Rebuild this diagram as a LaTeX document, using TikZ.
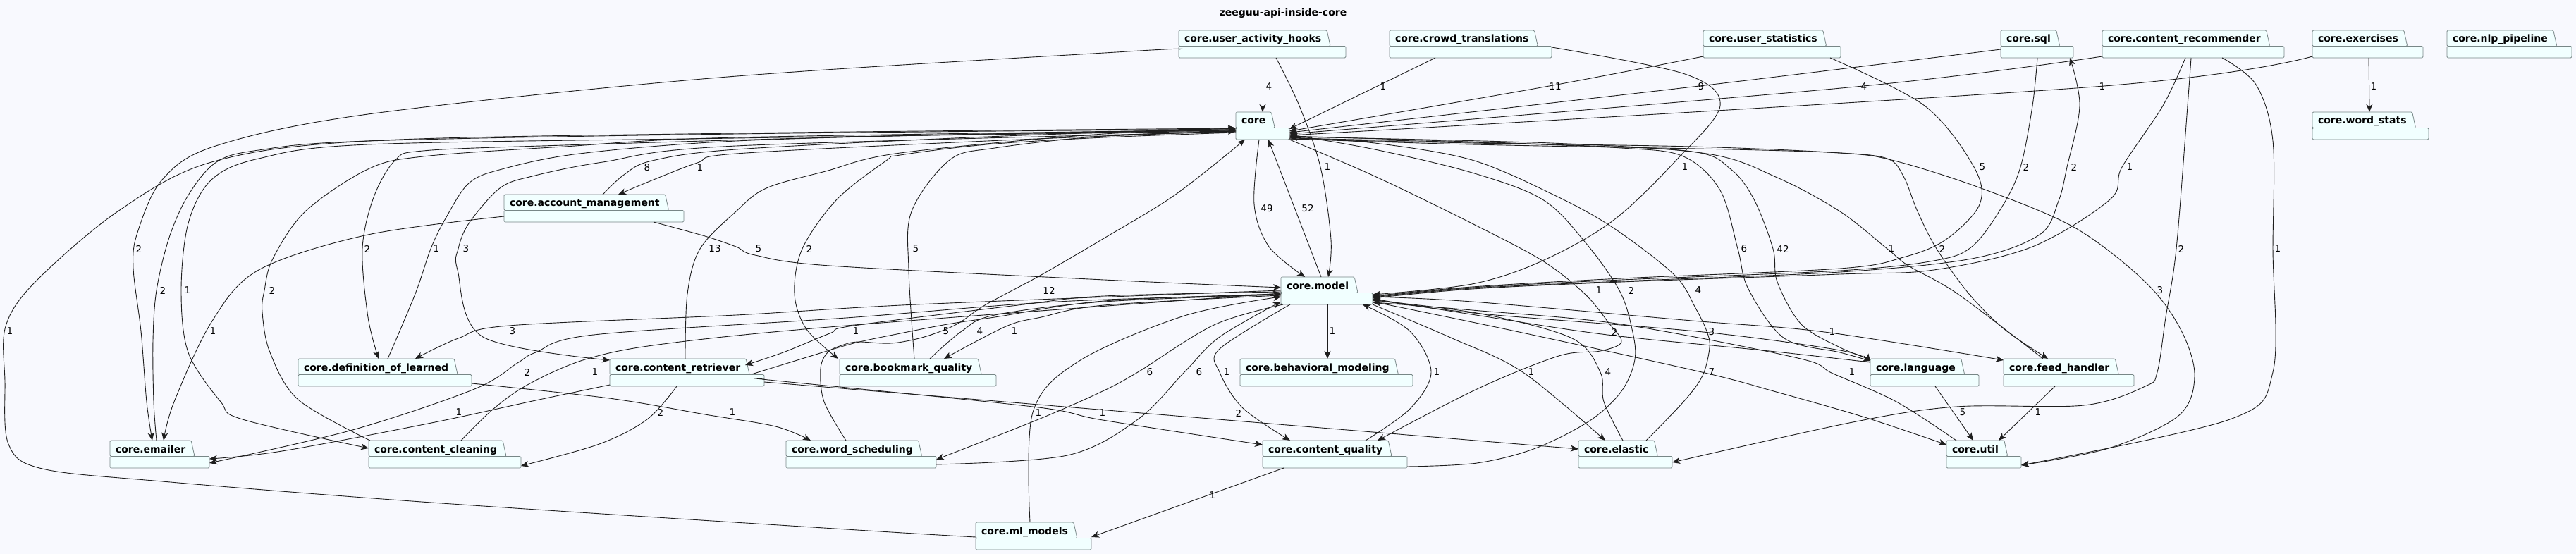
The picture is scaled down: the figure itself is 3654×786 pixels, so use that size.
\documentclass[tikz,border=0pt]{standalone}
\usepackage{fontspec}
\setmainfont{DejaVu Sans}
\usepackage{xcolor}
\usepackage{tikz}
\usetikzlibrary{arrows.meta,shapes.geometric}
\definecolor{pagebg}{RGB}{248,249,254}
\definecolor{pkgfill}{RGB}{241,255,255}
\definecolor{pkgborder}{RGB}{120,135,135}
\definecolor{edgeline}{RGB}{30,30,30}

% package: name, left, top, right, label (pixel units of the layout)
\newcommand{\pkgnode}[5]{%
  \node[pkgarea, minimum width={(#4-#2)*1pt}] (#1) at (#2,-#3) {};
  \draw[pkgbody] ([yshift=-22.5pt]#1.north west) rectangle (#1.south east);
  \node[pkgtab] (#1-tab) at (#1.north west) {#5};
}

\begin{document}
\begin{tikzpicture}[x=1pt, y=1pt, >={Stealth[length=11pt,width=9pt,inset=3pt]}]
  \tikzstyle{pkgarea}=[rectangle,anchor=north west,minimum height=39pt,inner sep=0pt,outer sep=0pt]
  \tikzstyle{pkgbody}=[draw=pkgborder,fill=pkgfill,line width=0.8pt,rounded corners=1.5pt]
  \tikzstyle{pkgtab}=[trapezium,trapezium left angle=90,trapezium right angle=70,trapezium stretches=true,anchor=top left corner,draw=pkgborder,fill=pkgfill,line width=0.8pt,rounded corners=1.5pt,minimum height=22.5pt,inner xsep=8pt,inner ysep=0pt,outer sep=0pt,text height=12.5pt,text depth=1pt,font=\bfseries\fontsize{14}{16}\selectfont]
  \tikzstyle{dep}=[->,draw=edgeline,line width=0.9pt,smooth,tension=0.55]
  \tikzstyle{lbl}=[inner sep=0pt,font=\fontsize{13.5}{15}\selectfont]

  \path[fill=pagebg,use as bounding box] (0,0) rectangle (3654,-786);
  \node[font=\bfseries\fontsize{14}{16}\selectfont] (title) at (1820,-19) {zeeguu-api-inside-core};

  % packages
  \pkgnode{hooks}{1672}{43}{1909}{core.user\_activity\_hooks}
  \pkgnode{crowd}{1971}{43}{2201}{core.crowd\_translations}
  \pkgnode{ustats}{2416}{43}{2611}{core.user\_statistics}
  \pkgnode{sql}{2838}{43}{2941}{core.sql}
  \pkgnode{recom}{2982}{43}{3240}{core.content\_recommender}
  \pkgnode{exer}{3280}{43}{3437}{core.exercises}
  \pkgnode{nlp}{3471}{43}{3648}{core.nlp\_pipeline}
  \pkgnode{core}{1753}{159}{1829}{core}
  \pkgnode{wstats}{3280}{159}{3445}{core.word\_stats}
  \pkgnode{account}{715}{276}{970}{core.account\_management}
  \pkgnode{model}{1817}{393}{1947}{core.model}
  \pkgnode{defl}{423}{509}{669}{core.definition\_of\_learned}
  \pkgnode{retr}{865}{509}{1084}{core.content\_retriever}
  \pkgnode{bookm}{1191}{509}{1413}{core.bookmark\_quality}
  \pkgnode{behav}{1759}{509}{2004}{core.behavioral\_modeling}
  \pkgnode{lang}{2653}{509}{2807}{core.language}
  \pkgnode{feed}{2842}{509}{3027}{core.feed\_handler}
  \pkgnode{email}{156}{625}{297}{core.emailer}
  \pkgnode{clean}{523}{625}{739}{core.content\_cleaning}
  \pkgnode{sched}{1115}{625}{1328}{core.word\_scheduling}
  \pkgnode{qual}{1791}{625}{1996}{core.content\_quality}
  \pkgnode{elastic}{2239}{625}{2372}{core.elastic}
  \pkgnode{util}{2761}{625}{2867}{core.util}
  \pkgnode{mlm}{1384}{741}{1548}{core.ml\_models}

  % top row into core
  \draw[dep] ([xshift=119pt]hooks.south west) -- ([xshift=38pt]core.north west);
  \node[lbl] (e1) at (1800,-123) {4};
  \draw[dep] plot coordinates {([xshift=65pt]crowd.south west) (1952,-123) ([yshift=-24pt]core.north east)};
  \node[lbl] (e2) at (1962,-123) {1};
  \draw[dep] plot coordinates {([yshift=-37pt]ustats.north west) (2192,-123) ([yshift=-27pt]core.north east)};
  \node[lbl] (e3) at (2206,-123) {11};
  \draw[dep] plot coordinates {([yshift=-27pt]sql.north west) (2402,-123) ([yshift=-29pt]core.north east)};
  \node[lbl] (e4) at (2413,-123) {9};
  \draw[dep] plot coordinates {([yshift=-37pt]recom.north west) (2633,-123) ([yshift=-31pt]core.north east)};
  \node[lbl] (e5) at (2644,-123) {4};
  \draw[dep] plot coordinates {([yshift=-37pt]exer.north west) (2972,-123) ([yshift=-33pt]core.north east)};
  \node[lbl] (e6) at (2982,-123) {1};
  \draw[dep] ([xshift=80pt]exer.south west) -- ([xshift=81pt]wstats.north west);
  \node[lbl] (e7) at (3367,-123) {1};

  % account, top row into model
  \draw[dep] plot coordinates {([xshift=140pt]account.north west) (885,-248) (925,-228) (1044,-212) (1400,-194) ([yshift=-23pt]core.north west)};
  \node[lbl] (e8) at (918,-238) {8};
  \draw[dep] plot coordinates {([yshift=-27pt]core.north west) (1400,-200) (1044,-218) (989,-231) (922,-257) ([xshift=162pt]account.north west)};
  \node[lbl] (e9) at (993,-238) {1};
  \draw[dep] plot coordinates {([xshift=138pt]hooks.south west) (1843,-150) (1873,-237) (1888,-340) ([xshift=67pt]model.north west)};
  \node[lbl] (e10) at (1883,-237) {1};
  \draw[dep] plot coordinates {([yshift=-24pt]crowd.north east) (2390,-105) (2440,-150) (2378,-227) (2288,-313) (2188,-370) (2088,-403) ([yshift=-25pt]model.north east)};
  \node[lbl] (e11) at (2390,-237) {1};
  \draw[dep] plot coordinates {([xshift=180pt]ustats.south west) (2730,-150) (2800,-237) (2808,-290) (2760,-340) (2700,-365) (2610,-381) (2300,-395) (2088,-407) ([yshift=-27pt]model.north east)};
  \node[lbl] (e12) at (2812,-237) {5};
  \draw[dep] plot coordinates {([xshift=52pt]sql.south west) (2883,-150) (2866,-237) (2840,-293) (2797,-350) (2743,-370) (2610,-384) (2300,-397) (2088,-408) ([yshift=-28pt]model.north east)};
  \node[lbl] (e13) at (2874,-237) {2};
  \draw[dep] plot coordinates {([yshift=-29pt]model.north east) (2088,-409) (2300,-399) (2610,-386) (2797,-367) (2893,-333) (2920,-285) (2932,-237) (2950,-150) ([xshift=98pt]sql.south west)};
  \node[lbl] (e14) at (2942,-237) {2};
  \draw[dep] plot coordinates {([xshift=118pt]recom.south west) (3068,-150) (3010,-237) (2993,-283) (2883,-350) (2743,-383) (2610,-389) (2300,-400) (2088,-410) ([yshift=-30pt]model.north east)};
  \node[lbl] (e15) at (3021,-237) {1};

  % core <-> model
  \draw[dep] plot coordinates {([xshift=33pt]core.south west) (1779,-290) (1800,-350) ([xshift=34pt]model.north west)};
  \node[lbl] (e16) at (1797,-296) {49};
  \draw[dep] ([xshift=57pt]model.north west) -- ([xshift=46pt]core.south west);
  \node[lbl] (e17) at (1855,-296) {52};

  % long edges, middle band
  \draw[dep] plot coordinates {([yshift=-27pt]hooks.north west) (1600,-73) (1020,-110) (522,-162) (306,-207) (230,-255) (195,-330) (189,-380) (200,-470) (208,-570) ([xshift=60pt]email.north west)};
  \node[lbl] (e18) at (197,-353) {2};
  \draw[dep] plot coordinates {([yshift=-26pt]core.north west) (1300,-192) (800,-206) (600,-214) (560,-228) (530,-280) (514,-353) (522,-450) ([xshift=114pt]defl.north west)};
  \node[lbl] (e19) at (521,-353) {2};
  \draw[dep] plot coordinates {([xshift=127pt]defl.north west) (589,-417) (611,-353) (632,-310) (665,-260) (712,-240) (822,-218) (1044,-200) (1400,-190) ([yshift=-25pt]core.north west)};
  \node[lbl] (e20) at (619,-353) {1};
  \draw[dep] plot coordinates {([yshift=-28pt]core.north west) (1044,-207) (855,-230) (755,-250) (709,-267) (665,-317) (650,-353) (649,-383) (685,-478) ([yshift=-2pt]retr.north west)};
  \node[lbl] (e21) at (661,-353) {3};
  \draw[dep] plot coordinates {([xshift=107pt]retr.north west) (975,-417) (993,-353) (1044,-300) (1087,-267) (1171,-243) (1277,-217) (1566,-190) ([yshift=-26pt]core.north west)};
  \node[lbl] (e22) at (1014,-353) {13};
  \draw[dep] plot coordinates {([xshift=212pt]account.south west) (1000,-335) (1044,-350) (1071,-362) (1177,-377) (1566,-397) ([yshift=-15pt]model.north west)};
  \node[lbl] (e23) at (1076,-353) {5};
  \draw[dep] plot coordinates {([yshift=-29pt]core.north west) (1566,-195) (1400,-205) (1277,-220) (1257,-228) (1187,-283) (1138,-353) (1127,-417) (1144,-467) ([xshift=-2pt]bookm.north west)};
  \node[lbl] (e24) at (1148,-353) {2};
  \draw[dep] plot coordinates {([xshift=106pt]bookm.north west) (1289,-383) (1293,-300) (1347,-227) (1411,-210) (1566,-193) ([yshift=-27pt]core.north west)};
  \node[lbl] (e25) at (1299,-353) {5};
  \draw[dep] plot coordinates {([yshift=-37pt]core.north east) (2088,-202) (2300,-210) (2388,-222) (2440,-270) (2465,-353) (2480,-410) (2531,-480) (2610,-500) ([yshift=-3pt]lang.north west)};
  \node[lbl] (e26) at (2474,-353) {6};
  \draw[dep] plot coordinates {([yshift=-1pt]lang.north west) (2610,-493) (2555,-460) (2521,-400) (2515,-353) (2488,-283) (2455,-240) (2400,-215) (2200,-205) ([yshift=-34pt]core.north east)};
  \node[lbl] (e27) at (2529,-353) {42};
  \draw[dep] plot coordinates {([xshift=56pt]feed.north west) (2777,-417) (2707,-377) (2677,-353) (2610,-300) (2521,-252) (2421,-218) (2200,-203) ([yshift=-35pt]core.north east)};
  \node[lbl] (e28) at (2683,-353) {1};
  \draw[dep] plot coordinates {([yshift=-38pt]core.north east) (2088,-205) (2455,-212) (2610,-217) (2677,-225) (2700,-250) (2720,-300) (2747,-353) (2793,-417) (2843,-467) ([xshift=63pt]feed.north west)};
  \node[lbl] (e29) at (2755,-353) {2};
  \draw[dep] plot coordinates {([xshift=126pt]recom.south west) (3103,-150) (3087,-353) (3072,-450) (3060,-528) (3043,-548) (2956,-575) (2775,-577) (2628,-599) ([yshift=-31pt]elastic.north east)};
  \node[lbl] (e30) at (3094,-353) {2};
  \draw[dep] plot coordinates {([xshift=170pt]recom.south west) (3200,-120) (3224,-200) (3224,-353) (3224,-528) (3163,-595) ([yshift=-35pt]util.north east)};
  \node[lbl] (e31) at (3231,-353) {1};

  % core <-> lower row
  \draw[dep] plot coordinates {([xshift=66pt]email.north west) (218,-570) (217,-483) (222,-412) (240,-337) (267,-277) (307,-230) (367,-213) (522,-200) (1044,-190) ([yshift=-24pt]core.north west)};
  \node[lbl] (e32) at (231,-412) {2};
  \draw[dep] plot coordinates {([yshift=-27pt]core.north west) (1044,-196) (522,-205) (367,-225) (300,-255) (267,-317) (257,-412) (267,-500) (313,-570) (344,-595) ([yshift=-11pt]clean.north west)};
  \node[lbl] (e33) at (266,-412) {1};
  \draw[dep] plot coordinates {([xshift=2pt]clean.north west) (423,-567) (383,-500) (372,-443) (375,-412) (387,-367) (433,-300) (522,-240) (600,-222) (800,-208) (1044,-195) ([yshift=-25pt]core.north west)};
  \node[lbl] (e34) at (386,-412) {2};
  \draw[dep] plot coordinates {([xshift=85pt]sched.north west) (1169,-570) (1164,-523) (1174,-500) (1194,-490) (1217,-485) (1264,-487) (1311,-478) (1357,-460) (1397,-433) (1477,-390) (1566,-338) (1666,-277) ([xshift=13pt]core.south west)};
  \node[lbl] (e35) at (1488,-412) {12};
  \draw[dep] plot coordinates {(core.south east) (1950,-250) (2088,-317) (2188,-370) (2248,-417) (2281,-457) (2300,-485) (2270,-498) (2211,-505) (2095,-552) ([xshift=163pt]qual.north west)};
  \node[lbl] (e36) at (2268,-412) {1};
  \draw[dep] plot coordinates {([yshift=-37pt]qual.north east) (2095,-657) (2178,-636) (2255,-597) (2300,-555) (2319,-510) (2315,-467) (2297,-412) (2248,-343) (2188,-283) (2088,-245) (1950,-212) ([yshift=-32pt]core.north east)};
  \node[lbl] (e37) at (2314,-412) {2};
  \draw[dep] plot coordinates {([xshift=96pt]elastic.north west) (2388,-570) (2415,-533) (2425,-493) (2421,-470) (2405,-437) (2375,-390) (2288,-323) (2205,-277) (2088,-227) (1950,-203) ([yshift=-36pt]core.north east)};
  \node[lbl] (e38) at (2409,-412) {4};
  \draw[dep] plot coordinates {([yshift=-38pt]core.north east) (2088,-203) (2400,-208) (2610,-217) (2687,-228) (2810,-267) (2943,-323) (3043,-400) (3093,-467) (3113,-533) (3090,-590) (2991,-636) ([yshift=-35pt]util.north east)};
  \node[lbl] (e39) at (3064,-412) {3};

  % model <-> middle row
  \draw[dep] plot coordinates {([yshift=-21pt]mlm.north west) (1200,-751) (612,-713) (230,-683) (60,-665) (12,-630) (7,-540) (8,-463) (50,-400) (167,-300) (300,-230) (522,-200) (1044,-189) ([yshift=-23pt]core.north west)};
  \node[lbl] (e40) at (14,-470) {1};
  \draw[dep] plot coordinates {([yshift=-31pt]account.north west) (522,-333) (367,-383) (300,-457) (247,-570) ([xshift=76pt]email.north west)};
  \node[lbl] (e41) at (302,-470) {1};
  \draw[dep] plot coordinates {([yshift=-19pt]model.north west) (1300,-432) (1044,-447) (722,-462) (650,-480) ([xshift=166pt]defl.north west)};
  \node[lbl] (e42) at (727,-470) {3};
  \draw[dep] plot coordinates {([yshift=-21pt]model.north west) (1566,-420) (1444,-433) (1211,-462) (1177,-473) (1111,-500) ([xshift=192pt,yshift=-9pt]retr.north west)};
  \node[lbl] (e43) at (1214,-470) {1};
  \draw[dep] plot coordinates {([xshift=201pt,yshift=-22pt]retr.north west) (1144,-507) (1211,-487) (1277,-473) (1344,-460) (1411,-450) (1566,-427) ([yshift=-24pt]model.north west)};
  \node[lbl] (e44) at (1342,-470) {5};
  \draw[dep] plot coordinates {([xshift=128pt]bookm.north west) (1364,-470) (1411,-447) (1566,-428) ([yshift=-25pt]model.north west)};
  \node[lbl] (e45) at (1390,-470) {4};
  \draw[dep] plot coordinates {([yshift=-26pt]model.north west) (1566,-433) (1477,-450) (1427,-463) ([xshift=148pt]bookm.north west)};
  \node[lbl] (e46) at (1439,-470) {1};
  \draw[dep] ([xshift=66pt]model.south west) -- ([xshift=124pt]behav.north west);
  \node[lbl] (e47) at (1890,-470) {1};
  \draw[dep] plot coordinates {([yshift=-5pt]lang.north west) (2500,-497) (2280,-475) (2100,-448) ([yshift=-31pt]model.north east)};
  \node[lbl] (e48) at (2290,-471) {2};
  \draw[dep] plot coordinates {([yshift=-32pt]model.north east) (2100,-445) (2416,-471) (2610,-497) ([yshift=-4pt]lang.north west)};
  \node[lbl] (e49) at (2428,-471) {3};
  \draw[dep] plot coordinates {([yshift=-28pt]model.north east) (2088,-428) (2400,-455) (2588,-471) ([yshift=-2pt]feed.north west)};
  \node[lbl] (e50) at (2599,-471) {1};

  % model <-> lower row
  \draw[dep] plot coordinates {([yshift=-25pt]model.north west) (1500,-428) (1200,-451) (842,-475) (760,-500) (734,-515) (673,-552) (500,-610) ([yshift=-32pt]email.north east)};
  \node[lbl] (e51) at (748,-528) {2};
  \draw[dep] plot coordinates {([xshift=131pt]clean.north west) (700,-580) (750,-545) (830,-510) (941,-488) (1200,-462) ([yshift=-23pt]model.north west)};
  \node[lbl] (e52) at (844,-528) {1};
  \draw[dep] plot coordinates {([xshift=3pt]model.south west) (1722,-461) (1614,-528) (1564,-555) (1473,-595) ([yshift=-27pt]sched.north east)};
  \node[lbl] (e53) at (1631,-528) {6};
  \draw[dep] plot coordinates {([yshift=-34pt]sched.north east) (1514,-646) (1614,-595) (1680,-528) (1730,-478) ([yshift=4pt]model.south west)};
  \node[lbl] (e54) at (1701,-528) {6};
  \draw[dep] plot coordinates {([xshift=13pt]model.south west) (1730,-495) (1730,-528) (1763,-579) ([xshift=39pt]qual.north west)};
  \node[lbl] (e55) at (1740,-528) {1};
  \draw[dep] plot coordinates {([xshift=146pt]qual.north west) (2000,-580) (2030,-528) (2000,-470) ([xshift=116pt]model.south west)};
  \node[lbl] (e56) at (2038,-528) {1};
  \draw[dep] plot coordinates {(model.south east) (2060,-480) (2160,-528) ([xshift=38pt]elastic.north west)};
  \node[lbl] (e57) at (2172,-528) {1};
  \draw[dep] plot coordinates {([xshift=63pt]elastic.north west) (2275,-570) (2270,-528) (2230,-480) (2100,-445) ([yshift=-33pt]model.north east)};
  \node[lbl] (e58) at (2281,-528) {4};
  \draw[dep] plot coordinates {([yshift=-35pt]model.north east) (2150,-470) (2414,-528) (2516,-555) (2645,-592) ([yshift=-6pt]util.north west)};
  \node[lbl] (e59) at (2428,-528) {7};
  \draw[dep] plot coordinates {([xshift=14pt]util.north west) (2690,-570) (2600,-530) (2550,-508) (2300,-460) (2088,-440) ([yshift=-36pt]model.north east)};
  \node[lbl] (e60) at (2627,-528) {1};

  % middle row -> lower row
  \draw[dep] plot coordinates {([yshift=-37pt]retr.north west) (760,-568) (612,-600) (400,-640) ([yshift=-26pt]email.north east)};
  \node[lbl] (e61) at (651,-585) {1};
  \draw[dep] plot coordinates {([xshift=95pt]retr.south west) (918,-595) (850,-630) ([yshift=-36pt]clean.north east)};
  \node[lbl] (e62) at (937,-585) {2};
  \draw[dep] plot coordinates {([yshift=-35pt]defl.north east) (864,-565) (1000,-588) (1100,-605) ([xshift=35pt]sched.north west)};
  \node[lbl] (e63) at (1039,-585) {1};
  \draw[dep] plot coordinates {([xshift=77pt]mlm.north west) (1465,-585) (1531,-512) (1680,-448) ([yshift=-28pt]model.north west)};
  \node[lbl] (e64) at (1473,-586) {1};
  \draw[dep] plot coordinates {([yshift=-29pt]retr.north east) (1100,-540) (1465,-577) (1564,-596) ([yshift=-6pt]qual.north west)};
  \node[lbl] (e65) at (1564,-586) {1};
  \draw[dep] ([yshift=-33pt]retr.north east) -- ([yshift=-12pt]elastic.north west);
  \node[lbl] (e66) at (1757,-586) {2};
  \draw[dep] ([xshift=92pt]lang.south west) -- ([xshift=38pt]util.north west);
  \node[lbl] (e67) at (2784,-585) {5};
  \draw[dep] ([xshift=73pt]feed.south west) -- ([xshift=74pt]util.north west);
  \node[lbl] (e68) at (2891,-585) {1};
  \draw[dep] ([xshift=30pt]qual.south west) -- ([yshift=-21pt]mlm.north east);
  \node[lbl] (e69) at (1720,-703) {1};
\end{tikzpicture}
\end{document}
